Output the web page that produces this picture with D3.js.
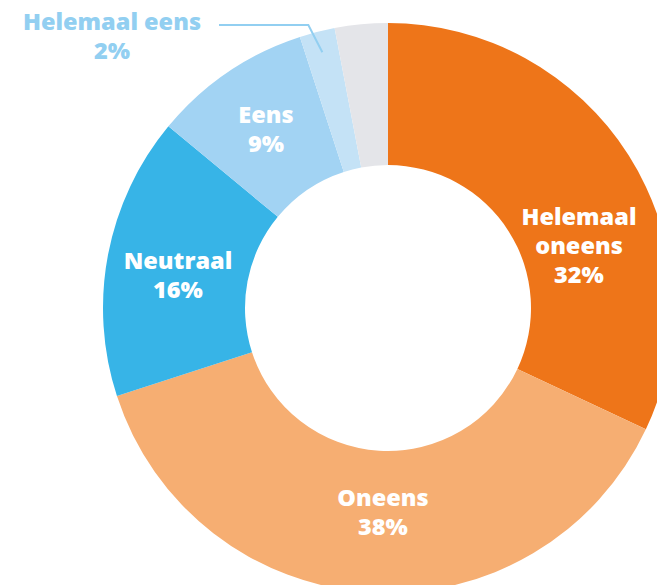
<!DOCTYPE html>
<html><head><meta charset="utf-8">
<script src="https://cdn.jsdelivr.net/npm/d3@7"></script>
<style>html,body{margin:0;padding:0;background:#fff;overflow:hidden}</style>
</head><body>
<svg id="chart" width="657" height="585"></svg>
<script>
const categories = ["Helemaal oneens", "Oneens", "Neutraal", "Eens", "Helemaal eens", "Geen antwoord"];
const values = [32, 38, 16, 9, 2, 3];
const colors = ["#EE7519", "#F6AE72", "#37B4E7", "#A2D3F3", "#C4E2F6", "#E4E5E9"];
const labelLines = [["Helemaal", "oneens", "32%"], ["Oneens", "38%"], ["Neutraal", "16%"], ["Eens", "9%"], ["Helemaal eens", "2%"], []];

const svg = d3.select("#chart");
const cx = 388, cy = 308, rOuter = 285, rInner = 143;
const g = svg.append("g").attr("transform", `translate(${cx},${cy})`);
const pie = d3.pie().sort(null).value(d => d)(values);
const arc = d3.arc().innerRadius(rInner).outerRadius(rOuter);
g.selectAll("path").data(pie).join("path").attr("d", arc).attr("fill", (d, i) => colors[i]);

const font = "'Open Sans', sans-serif";
const fs = 23.5;
// first baseline positions (absolute)
const labelPos = [[579, 225], [383, 506], [178, 269], [266, 123], null, null];
const lh = 29;
pie.forEach((d, i) => {
  const lines = labelLines[i];
  if (!lines.length || i === 4) return;
  const p = labelPos[i];
  const t = svg.append("text").attr("text-anchor", "middle").attr("fill", "#fff")
    .attr("font-family", font).attr("font-weight", 800).attr("font-size", fs);
  lines.forEach((s, k) => {
    t.append("tspan").attr("x", p[0]).attr("y", p[1] + k * lh).text(s);
  });
});

// external label for small slice
const sm = pie[4];
const mid = (sm.startAngle + sm.endAngle) / 2;
const rA = rOuter - 21;
const ax = Math.sin(mid) * rA, ay = -Math.cos(mid) * rA;
const lineColor = "#92CFF1";
g.append("polyline").attr("points", [[ax, ay], [ax - 14, -283], [-169, -283]].map(p => p.join(",")).join(" "))
  .attr("fill", "none").attr("stroke", lineColor).attr("stroke-width", 2);
const et = svg.append("text").attr("text-anchor", "middle").attr("fill", lineColor)
  .attr("font-family", font).attr("font-weight", 800).attr("font-size", fs);
labelLines[4].forEach((s, k) => {
  et.append("tspan").attr("x", 112).attr("y", 30 + k * 29).text(s);
});
</script>
</body></html>
